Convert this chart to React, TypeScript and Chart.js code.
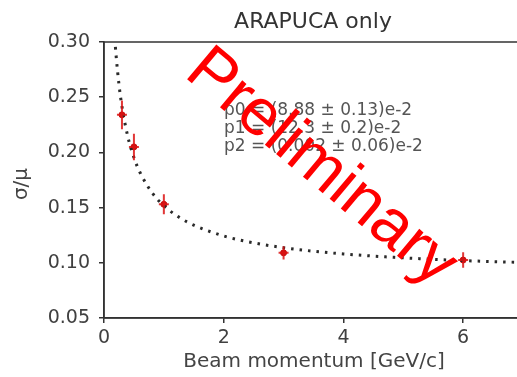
import React, { useEffect, useRef } from "react";
import { Chart, registerables } from "chart.js";

Chart.register(...registerables);

const titleText = "ARAPUCA only";
const xLabel = "Beam momentum [GeV/c]";
const yLabel = "σ/μ";
const watermark = "Preliminary";
const fitLines = [
  "p0 = (8.88 ± 0.13)e-2",
  "p1 = (12.3 ± 0.2)e-2",
  "p2 = (0.002 ± 0.06)e-2",
];

const momentum = [0.3, 0.5, 1, 3, 6];
const sigmaOverMu = [0.234, 0.205, 0.153, 0.109, 0.1025];
const sigmaErr = [0.013, 0.012, 0.009, 0.006, 0.007];

const fitMomentum = [0.18, 0.2, 0.25, 0.3, 0.4, 0.5, 0.6, 0.8, 1, 1.25, 1.5, 2, 2.5, 3, 3.5, 4, 5, 6, 7];
const fitValues = [0.3032, 0.289, 0.2616, 0.2415, 0.2138, 0.1953, 0.182, 0.1637, 0.1517, 0.1414, 0.1341, 0.1243, 0.1181, 0.1137, 0.1105, 0.108, 0.1045, 0.102, 0.1003];

const xTicks = [0, 2, 4, 6];
const yTicks = [0.05, 0.1, 0.15, 0.2, 0.25, 0.3];

const FONT = "'DejaVu Sans', sans-serif";
const AXIS = "#333";

const overlay = {
  id: "overlay",
  afterDatasetsDraw(chart: any) {
    const ctx = chart.ctx;
    const xs = chart.scales.x;
    const ys = chart.scales.y;
    const a = chart.chartArea;
    ctx.save();
    ctx.beginPath();
    ctx.rect(a.left, a.top, a.right - a.left, a.bottom - a.top);
    ctx.clip();
    ctx.strokeStyle = "rgba(220,20,20,0.85)";
    ctx.lineWidth = 2;
    momentum.forEach((p, i) => {
      const x = xs.getPixelForValue(p);
      const y1 = ys.getPixelForValue(sigmaOverMu[i] - sigmaErr[i]);
      const y2 = ys.getPixelForValue(sigmaOverMu[i] + sigmaErr[i]);
      const y = ys.getPixelForValue(sigmaOverMu[i]);
      ctx.beginPath();
      ctx.moveTo(x, y1);
      ctx.lineTo(x, y2);
      ctx.moveTo(x - 5, y);
      ctx.lineTo(x + 5, y);
      ctx.stroke();
    });
    ctx.restore();
  },
  afterDraw(chart: any) {
    const ctx = chart.ctx;
    const a = chart.chartArea;
    ctx.save();
    // frame
    ctx.strokeStyle = AXIS;
    ctx.lineWidth = 1.5;
    ctx.strokeRect(a.left, a.top, a.right - a.left, a.bottom - a.top);
    // title
    ctx.fillStyle = "#333";
    ctx.font = `22px ${FONT}`;
    ctx.textAlign = "center";
    ctx.textBaseline = "middle";
    ctx.fillText(titleText, 313, 22);
    // x label
    ctx.font = `20px ${FONT}`;
    ctx.fillStyle = "#444";
    ctx.fillText(xLabel, 314, 362);
    // y label
    ctx.save();
    ctx.translate(22, 184);
    ctx.rotate(-Math.PI / 2);
    ctx.fillText(yLabel, 0, 0);
    ctx.restore();
    // fit text
    ctx.font = `17px ${FONT}`;
    ctx.fillStyle = "#555";
    ctx.textAlign = "left";
    fitLines.forEach((t, i) => ctx.fillText(t, 224, 111 + i * 18));
    // watermark
    ctx.save();
    ctx.translate(321, 168);
    ctx.rotate((40 * Math.PI) / 180);
    ctx.font = `66px 'Liberation Sans', Arial, sans-serif`;
    ctx.fillStyle = "#ff0000";
    ctx.textAlign = "center";
    ctx.textBaseline = "middle";
    ctx.fillText(watermark, 0, 0);
    ctx.restore();
    ctx.restore();
  },
};

export default function App() {
  const ref = useRef<HTMLCanvasElement>(null);
  useEffect(() => {
    const canvas = ref.current;
    if (!canvas) return;
    const chart = new Chart(canvas, {
      type: "scatter",
      data: {
        datasets: [
          {
            type: "line",
            data: fitMomentum.map((p, i) => ({ x: p, y: fitValues[i] })),
            borderColor: "#2a2a2a",
            borderWidth: 3,
            borderDash: [2.5, 6],
            pointRadius: 0,
            cubicInterpolationMode: "monotone",
            fill: false,
          } as any,
          {
            data: momentum.map((p, i) => ({ x: p, y: sigmaOverMu[i] })),
            backgroundColor: "#c81010",
            borderColor: "#c81010",
            pointRadius: 3,
            pointStyle: "circle",
          },
        ],
      },
      options: {
        responsive: false,
        animation: false,
        layout: { padding: { left: 0, top: 42, right: 17, bottom: 0 } },
        plugins: {
          legend: { display: false },
          title: { display: false },
          tooltip: { enabled: false },
        },
        scales: {
          x: {
            type: "linear",
            min: 0,
            max: 7,
            afterBuildTicks: (s: any) => {
              s.ticks = xTicks.map((v) => ({ value: v }));
            },
            afterFit: (s: any) => {
              s.height = 59;
            },
            grid: {
              drawOnChartArea: false,
              drawTicks: true,
              tickLength: 5,
              color: AXIS,
              lineWidth: 1.5,
            },
            border: { display: true, color: AXIS, width: 1.5 },
            ticks: {
              font: { family: FONT, size: 19 },
              color: "#404040",
              padding: 4,
              callback: (v: any) => String(v),
            },
          },
          y: {
            type: "linear",
            min: 0.05,
            max: 0.3,
            afterBuildTicks: (s: any) => {
              s.ticks = yTicks.map((v) => ({ value: v }));
            },
            afterFit: (s: any) => {
              s.width = 104;
            },
            grid: {
              drawOnChartArea: false,
              drawTicks: true,
              tickLength: 5,
              color: AXIS,
              lineWidth: 1.5,
            },
            border: { display: true, color: AXIS, width: 1.5 },
            ticks: {
              font: { family: FONT, size: 19 },
              color: "#404040",
              padding: 9,
              callback: (v: any) => Number(v).toFixed(2),
            },
          },
        },
      },
      plugins: [overlay],
    });
    return () => chart.destroy();
  }, []);
  return (
    <div
      style={{
        position: "fixed",
        left: 0,
        top: 0,
        width: 517,
        height: 377,
        overflow: "hidden",
        background: "#fff",
      }}
    >
      <canvas ref={ref} width={540} height={377} style={{ display: "block" }} />
    </div>
  );
}
